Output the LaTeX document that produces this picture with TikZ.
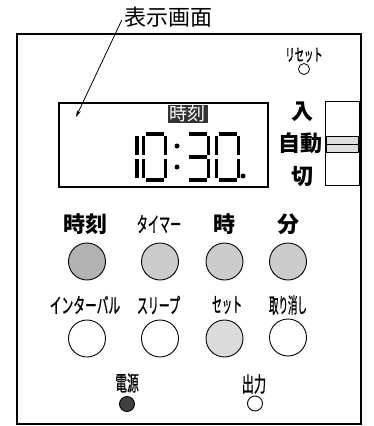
\documentclass[tikz,border=0pt]{standalone}
\usepackage{fontspec}
\usepackage{graphicx}
\setmainfont{Noto Sans CJK JP}
\newfontfamily\jpheavy[RawFeature={embolden=1.3}]{Noto Sans CJK JP}
\usetikzlibrary{arrows.meta}

\newcommand{\narrow}[2][0.55]{\scalebox{#1}[1]{#2}}
% seven segment pieces (cell 22 x 46)
\newcommand{\sega}{\draw[seg] (2,0) -- (20,0);}
\newcommand{\segb}{\draw[seg] (22,2) -- (22,21);}
\newcommand{\segc}{\draw[seg] (22,25) -- (22,44);}
\newcommand{\segd}{\draw[seg] (2,46) -- (20,46);}
\newcommand{\sege}{\draw[seg] (0,25) -- (0,44);}
\newcommand{\segf}{\draw[seg] (0,2) -- (0,21);}
\newcommand{\segg}{\draw[seg] (2,23) -- (20,23);}

\tikzset{
  btn/.style={draw, line width=0.9pt, circle, minimum size=37pt, inner sep=0pt},
  lamp/.style={draw, line width=0.9pt, circle, minimum size=15pt, inner sep=0pt},
  lbl/.style={font=\jpheavy\fontsize{21}{21}\selectfont, inner sep=0pt},
  blbl/.style={font=\fontsize{22}{22}\selectfont\bfseries, inner sep=0pt},
  seg/.style={line width=3.6pt},
}

\begin{document}
\begin{tikzpicture}[x=1pt, y=-1pt]
\useasboundingbox (0,0) rectangle (373,426);
% Frame
\draw[line width=2pt] (17,34) rectangle (361,424);

% Title and pointer
\node[lbl, font=\fontsize{22}{22}\selectfont] (title) at (168,17) {表示画面};
\coordinate (tip) at (76,117);
\draw[line width=0.8pt, -{Stealth[length=7pt,width=4pt]}] ([xshift=-2pt,yshift=-3pt]title.west) -- (tip);

% Display
\draw[line width=1.2pt] (59,103) rectangle (268,187);
\node[font=\fontsize{18}{18}\selectfont, fill=black!80, text=white, inner xsep=2pt, inner ysep=1pt, minimum height=18pt] (clock) at (187.5,114) {時刻};
\begin{scope}[shift={(115,134)}] \segb \segc \end{scope}
\begin{scope}[shift={(143.5,134)}] \sega \segb \segc \segd \sege \segf \end{scope}
\begin{scope}[shift={(186.5,134)}] \sega \segb \segc \segd \segg \end{scope}
\begin{scope}[shift={(216.5,134)}] \sega \segb \segc \segd \sege \segf \end{scope}
\fill (177,146) circle (2.5);
\fill (177,167) circle (2.5);
\fill (243,176) circle (2.5);

% Slide switch
\draw[line width=1pt] (325,101) rectangle (359,185);
\draw[fill=black!13] (326,136) rectangle (358,144);
\draw[fill=black!13] (326,144) rectangle (358,152);
\node[blbl] (on) at (302,112) {入};
\node[blbl] (auto) at (300,143) {自動};
\node[blbl] (off) at (302,177) {切};

% Reset
\node[lbl, font=\jpheavy\fontsize{17}{17}\selectfont] (reset) at (304,55) {\narrow[0.55]{リセット}};
\node[draw, circle, minimum size=11pt, inner sep=0pt, line width=0.8pt] (resetbtn) at (304,69) {};

% Buttons, first row
\node[blbl] (lclock) at (85,224) {時刻};
\node[lbl] (ltimer) at (159,224) {\narrow[0.53]{タイマー}};
\node[blbl] (lhour) at (224,224) {時};
\node[blbl] (lmin) at (288,224) {分};
\node[btn, fill=black!30] (bclock) at (87,261.5) {};
\node[btn, fill=black!20] (btimer) at (160,261.5) {};
\node[btn, fill=black!20] (bhour) at (224.5,261.5) {};
\node[btn, fill=black!20] (bmin) at (288,261.5) {};

% Buttons, second row
\node[lbl] (linterval) at (85,305) {\narrow[0.56]{インターバル}};
\node[lbl] (lsleep) at (158.5,305) {\narrow[0.52]{スリープ}};
\node[lbl] (lset) at (227,305) {\narrow[0.48]{セット}};
\node[lbl] (lcancel) at (288,305) {\narrow[0.45]{取り消し}};
\node[btn] (binterval) at (87,338.5) {};
\node[btn] (bsleep) at (160,338.5) {};
\node[btn, fill=black!14] (bset) at (224.5,338.5) {};
\node[btn] (bcancel) at (288,337.5) {};

% Lamps
\node[lbl] (lpower) at (127,383) {\narrow[0.56]{電源}};
\node[lbl] (lout) at (254,384) {\narrow[0.58]{出力}};
\node[lamp, fill=black!75] (power) at (127,404) {};
\node[lamp] (out) at (255,403.5) {};
\end{tikzpicture}
\end{document}
